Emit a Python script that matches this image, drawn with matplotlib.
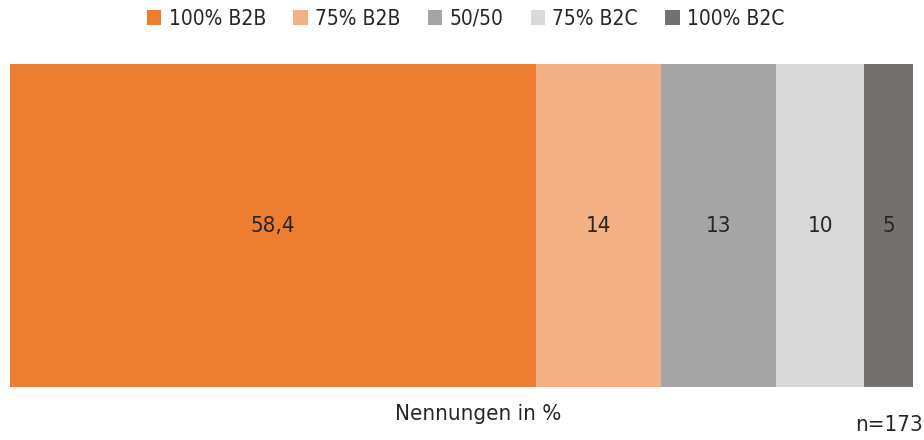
import matplotlib.pyplot as plt
from matplotlib.patches import Patch

plt.rcParams['font.family'] = ['DejaVu Sans']
plt.rcParams['font.stretch'] = 'condensed'

categories = ['100% B2B', '75% B2B', '50/50', '75% B2C', '100% B2C']
values = [58.4, 13.9, 12.8, 9.8, 5.4]
labels = ['58,4', '14', '13', '10', '5']
colors = ['#ED7D31', '#F4B183', '#A5A5A5', '#D9D9D9', '#767171']

fig = plt.figure(figsize=(9.24, 4.4), dpi=100)
ax = fig.add_axes([10 / 924, 53 / 440, 903 / 924, 323 / 440])

left = 0
for v, lab, c in zip(values, labels, colors):
    ax.barh(0, v, left=left, height=1, color=c)
    ax.text(left + v / 2, 0, lab, ha='center', va='center', fontsize=16, color='#262626')
    left += v

ax.set_xlim(0, sum(values))
ax.set_ylim(-0.5, 0.5)
ax.axis('off')

handles = [Patch(facecolor=c) for c in colors]
fig.legend(handles, categories, loc='center', bbox_to_anchor=(0.504, 0.957), ncol=5,
           frameon=False, fontsize=15, handlelength=0.7, handleheight=0.7,
           handletextpad=0.35, columnspacing=1.3, labelcolor='#262626')

fig.text(0.517, 0.06, 'Nennungen in %', ha='center', va='center', fontsize=16, color='#262626')
fig.text(0.999, 0.033, 'n=173', ha='right', va='center', fontsize=16, color='#262626')

fig.savefig('out.png', dpi=100)
